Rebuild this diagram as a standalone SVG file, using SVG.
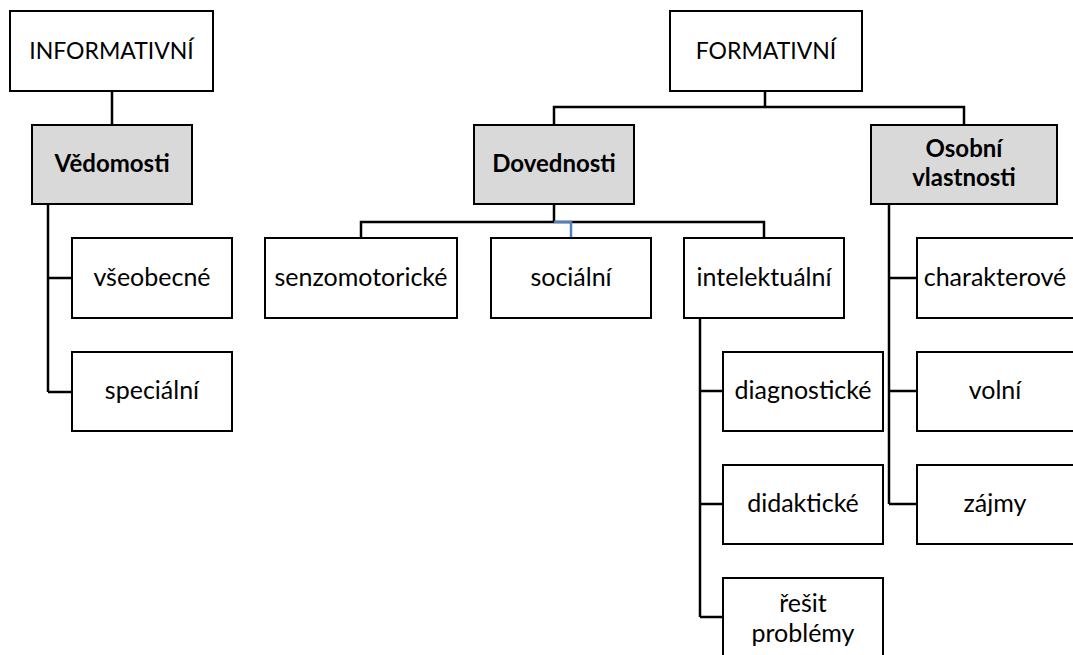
<svg xmlns="http://www.w3.org/2000/svg" width="1073" height="655" viewBox="0 0 1073 655">
<style>
.box{fill:#ffffff;stroke:#000000;stroke-width:2}
.grey{fill:#d9d9d9;stroke:#000000;stroke-width:2}
.t{font-family:Lato,"Open Sans","Liberation Sans",sans-serif;font-size:25px;fill:#000000;text-anchor:middle}
.c{font-size:23px}
.b{font-weight:bold;font-size:24px}
.ln{fill:none;stroke:#000000;stroke-width:2.5}
.blue{fill:none;stroke:#4f81bd;stroke-width:2.5}
</style>
<rect width="1073" height="655" fill="#ffffff"/>
<g id="connectors">
<path class="ln" d="M112,91 V125"/>
<path class="ln" d="M48,204 V392 M48,278 H72 M48,392 H72"/>
<path class="ln" d="M765,91 V107 M554,125 V107 H964 V125"/>
<path class="ln" d="M554,204 V222 M361,238 V222 H764 V238"/>
<path class="blue" d="M554,222 H571 V238"/>
<path class="ln" d="M700,318 V617 M700,391 H723 M700,504 H723 M700,617 H723"/>
<path class="ln" d="M889,204 V504 M889,278 H917 M889,391 H917 M889,504 H917"/>
</g>
<g id="informativni"><rect class="box" x="10" y="11" width="203" height="80"/><text class="t c" x="111.5" y="59">INFORMATIVNÍ</text></g>
<g id="formativni"><rect class="box" x="670" y="11" width="192" height="80"/><text class="t c" x="766" y="59">FORMATIVNÍ</text></g>
<g id="vedomosti"><rect class="grey" x="32" y="125" width="160" height="79"/><text class="t b" x="112" y="172">Vědomosti</text></g>
<g id="dovednosti"><rect class="grey" x="474" y="125" width="160" height="79"/><text class="t b" x="554" y="172">Dovednosti</text></g>
<g id="osobni"><rect class="grey" x="871" y="125" width="186" height="79"/><text class="t b" x="964" y="157">Osobní</text><text class="t b" x="964" y="186">vlastnosti</text></g>
<g id="vseobecne"><rect class="box" x="72" y="238" width="160" height="80"/><text class="t" x="152" y="286">všeobecné</text></g>
<g id="specialni"><rect class="box" x="72" y="352" width="160" height="79"/><text class="t" x="152" y="399">speciální</text></g>
<g id="senzomotoricke"><rect class="box" x="265" y="238" width="192" height="80"/><text class="t" x="361" y="286">senzomotorické</text></g>
<g id="socialni"><rect class="box" x="491" y="238" width="160" height="80"/><text class="t" x="571" y="286">sociální</text></g>
<g id="intelektualni"><rect class="box" x="684" y="238" width="160" height="80"/><text class="t" x="764" y="286">intelektuální</text></g>
<g id="diagnosticke"><rect class="box" x="723" y="352" width="160" height="79"/><text class="t" x="803" y="399">diagnostické</text></g>
<g id="didakticke"><rect class="box" x="723" y="465" width="160" height="79"/><text class="t" x="803" y="512">didaktické</text></g>
<g id="resit"><rect class="box" x="723" y="578" width="160" height="80"/><text class="t" x="803" y="612">řešit</text><text class="t" x="803" y="642">problémy</text></g>
<g id="charakterove"><rect class="box" x="917" y="238" width="160" height="80"/><text class="t" x="995" y="286">charakterové</text></g>
<g id="volni"><rect class="box" x="917" y="352" width="160" height="79"/><text class="t" x="995" y="399">volní</text></g>
<g id="zajmy"><rect class="box" x="917" y="465" width="160" height="79"/><text class="t" x="995" y="512">zájmy</text></g>
</svg>
